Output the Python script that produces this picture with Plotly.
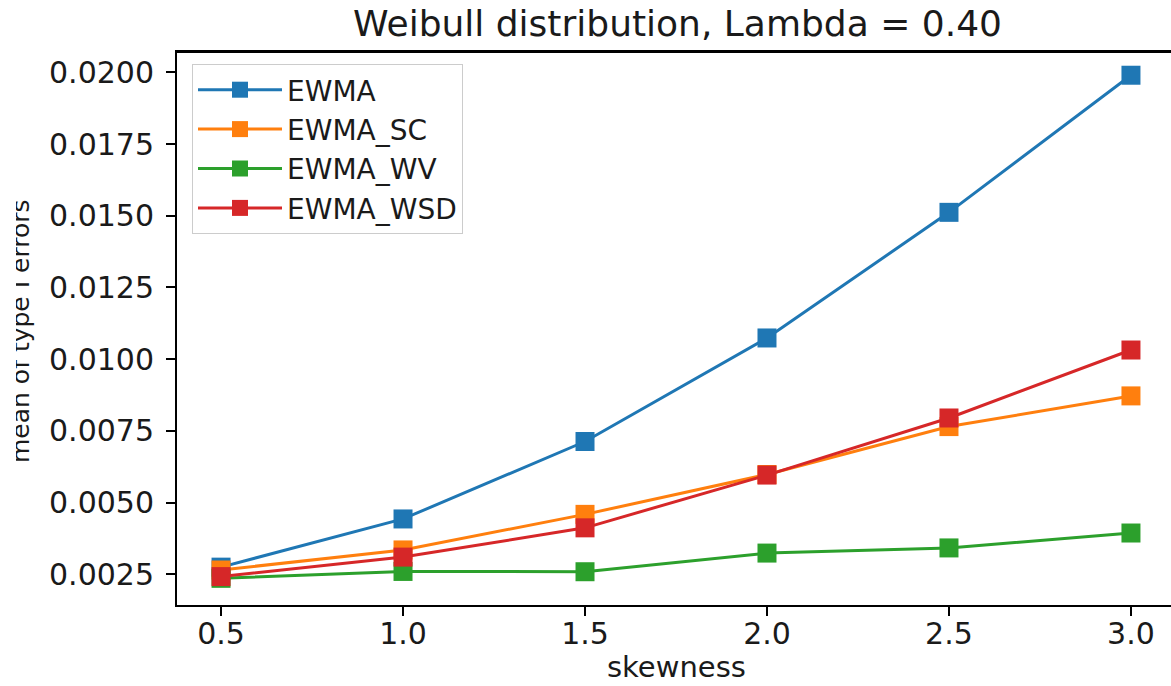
import plotly.graph_objects as go

skewness = [0.5, 1.0, 1.5, 2.0, 2.5, 3.0]
ewma = [0.00275, 0.00443, 0.00713, 0.01074, 0.01512, 0.01990]
ewma_sc = [0.00265, 0.00335, 0.00459, 0.00598, 0.00765, 0.00872]
ewma_wv = [0.00236, 0.00260, 0.00259, 0.00324, 0.00342, 0.00394]
ewma_wsd = [0.00242, 0.00310, 0.00412, 0.00596, 0.00795, 0.01032]

series_names = ["EWMA", "EWMA_SC", "EWMA_WV", "EWMA_WSD"]
series_values = [ewma, ewma_sc, ewma_wv, ewma_wsd]
colors = ["#1f77b4", "#ff7f0e", "#2ca02c", "#d62728"]

x_ticks = [0.5, 1.0, 1.5, 2.0, 2.5, 3.0]
x_ticktext = ["0.5", "1.0", "1.5", "2.0", "2.5", "3.0"]
y_ticks = [0.0025, 0.0050, 0.0075, 0.0100, 0.0125, 0.0150, 0.0175, 0.0200]
y_ticktext = ["%.4f" % v for v in y_ticks]

FONT = "DejaVu Sans"
TXT = "#1a1a1a"

W, H = 1171, 686
L, R, T, B = 177, 0, 52, 81
PW, PH = W - L - R, H - T - B


def px_x(px):
    return (px - L) / PW


def px_y(py):
    return (H - B - py) / PH


fig = go.Figure()
for name, vals, c in zip(series_names, series_values, colors):
    fig.add_trace(go.Scatter(
        x=skewness, y=vals, name=name, mode="lines+markers",
        line=dict(color=c, width=3),
        marker=dict(symbol="square", size=19, color=c, line=dict(width=0)),
    ))

fig.update_layout(
    width=W, height=H,
    margin=dict(l=L, r=R, t=T, b=B, autoexpand=False),
    paper_bgcolor="white", plot_bgcolor="white",
    font=dict(family=FONT, size=29, color=TXT),
    showlegend=True,
    legend=dict(x=px_x(192), y=px_y(64), xanchor="left", yanchor="top",
                bgcolor="rgba(255,255,255,0.85)", bordercolor="#cccccc", borderwidth=1,
                font=dict(family=FONT, size=28, color=TXT),
                itemwidth=84),
    xaxis=dict(range=[0.379, 3.110], tickvals=x_ticks, ticktext=x_ticktext,
               showline=True, linecolor="black", linewidth=2, mirror=True,
               ticks="outside", ticklen=9, tickwidth=2, tickcolor="black",
               ticklabelstandoff=-8, automargin=False,
               tickfont=dict(family=FONT, size=30, color=TXT),
               showgrid=False, zeroline=False),
    yaxis=dict(range=[0.00143, 0.02071], tickvals=y_ticks, ticktext=y_ticktext,
               showline=True, linecolor="black", linewidth=2, mirror=False,
               ticks="outside", ticklen=9, tickwidth=2, tickcolor="black",
               ticklabelstandoff=6, automargin=False,
               tickfont=dict(family=FONT, size=30, color=TXT),
               showgrid=False, zeroline=False),
    shapes=[
        dict(type="line", xref="paper", yref="paper", x0=0, x1=1, y0=1, y1=1,
             line=dict(color="black", width=2), layer="above"),
    ],
    annotations=[
        dict(text="Weibull distribution, Lambda = 0.40", xref="paper", yref="paper",
             x=px_x(677), y=px_y(24), xanchor="center", yanchor="middle",
             showarrow=False, font=dict(family=FONT, size=36, color=TXT)),
        dict(text="skewness", xref="paper", yref="paper",
             x=px_x(676), y=px_y(686), xanchor="center", yanchor="bottom",
             showarrow=False, font=dict(family=FONT, size=29, color=TXT)),
        dict(text="mean of type I errors", textangle=-90, xref="paper", yref="paper",
             x=px_x(20), y=px_y(331), xanchor="center", yanchor="middle",
             showarrow=False, font=dict(family=FONT, size=25, color=TXT)),
        dict(text=" ", xref="paper", yref="paper", x=px_x(0), y=px_y(331),
             xanchor="left", yanchor="middle", width=16, height=320,
             bgcolor="white", borderwidth=0, borderpad=0, showarrow=False),
    ],
)

fig.write_html("out.html", config={"displayModeBar": False},
               post_script="document.body.style.margin='0px';document.body.style.padding='0px';")
